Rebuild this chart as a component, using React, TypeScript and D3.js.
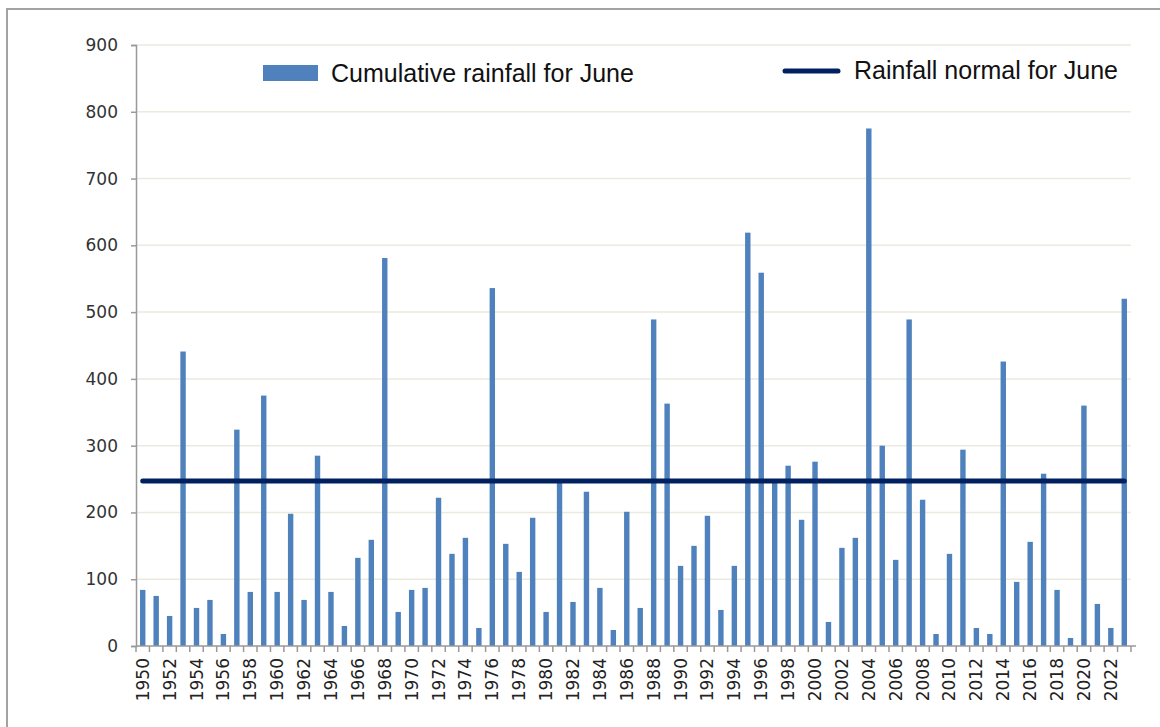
import { useEffect, useRef } from "react";
import * as d3 from "d3";

// June rainfall per year (mm)
const years = d3.range(1950, 2024).map(String);
const rainfall = [
  84, 75, 45, 441, 57, 69, 18, 324, 81, 375,
  81, 198, 69, 285, 81, 30, 132, 159, 581, 51,
  84, 87, 222, 138, 162, 27, 536, 153, 111, 192,
  51, 246, 66, 231, 87, 24, 201, 57, 489, 363,
  120, 150, 195, 54, 120, 619, 559, 246, 270, 189,
  276, 36, 147, 162, 775, 300, 129, 489, 219, 18,
  138, 294, 27, 18, 426, 96, 156, 258, 84, 12,
  360, 63, 27, 520,
];
const normalValue = 247;
const yTicks = [0, 100, 200, 300, 400, 500, 600, 700, 800, 900];
const seriesNames = ["Cumulative rainfall for June", "Rainfall normal for June"];

const width = 1160;
const height = 727;

export default function App() {
  const svgRef = useRef<SVGSVGElement>(null);

  useEffect(() => {
    if (!svgRef.current) return;
    const svg = d3.select(svgRef.current);
    svg.selectAll("*").remove();

    const left = 136, right = 1131, top = 45, bottom = 646;
    const font = "'DejaVu Sans', Verdana, sans-serif";

    // frame around the whole chart
    svg.append("rect")
      .attr("x", 7).attr("y", 9)
      .attr("width", 1170).attr("height", 740)
      .attr("fill", "#fff")
      .attr("stroke", "#a3a3a3")
      .attr("stroke-width", 2);

    const xb = d3.scaleBand().domain(years).range([left, right]);
    const y = d3.scaleLinear().domain([0, 900]).range([bottom, top]);

    // gridlines
    svg.append("g")
      .selectAll("line")
      .data(yTicks.filter((t) => t > 0))
      .join("line")
      .attr("x1", left).attr("x2", right)
      .attr("y1", (d) => y(d)).attr("y2", (d) => y(d))
      .attr("stroke", "#ece9dd")
      .attr("stroke-width", 1.5);

    // y axis
    const yAxis = svg.append("g")
      .attr("transform", `translate(${left},0)`)
      .call(d3.axisLeft(y).tickValues(yTicks).tickSize(5).tickPadding(13));
    yAxis.select(".domain").attr("stroke", "#999").attr("stroke-width", 1.5);
    yAxis.selectAll(".tick line").attr("stroke", "#999").attr("stroke-width", 1.5);
    yAxis.selectAll("text")
      .attr("font-family", font)
      .attr("font-size", 17)
      .attr("fill", "#333");

    // bars
    svg.append("g")
      .selectAll("rect")
      .data(rainfall)
      .join("rect")
      .attr("x", (_d, i) => (xb(years[i]) as number) + xb.bandwidth() / 2 - 2.7)
      .attr("width", 5.4)
      .attr("y", (d) => y(d))
      .attr("height", (d) => y(0) - y(d))
      .attr("fill", "#4f81bd");

    // x axis
    const xg = svg.append("g").attr("transform", `translate(0,${bottom})`);
    xg.append("line")
      .attr("x1", left).attr("x2", right + 5)
      .attr("stroke", "#999").attr("stroke-width", 1.5);
    xg.selectAll("line.tk")
      .data([...years, "end"])
      .join("line")
      .attr("class", "tk")
      .attr("x1", (_d, i) => left + i * xb.step())
      .attr("x2", (_d, i) => left + i * xb.step())
      .attr("y1", 0).attr("y2", 6)
      .attr("stroke", "#999").attr("stroke-width", 1.5);
    xg.selectAll("text")
      .data(years.filter((_d, i) => i % 2 === 0))
      .join("text")
      .attr("transform", (d) => `translate(${(xb(d) as number) + xb.bandwidth() / 2 + 6},12) rotate(-90)`)
      .attr("text-anchor", "end")
      .attr("font-family", font)
      .attr("font-size", 17)
      .attr("fill", "#222")
      .text((d) => d);

    // normal line
    svg.append("line")
      .attr("x1", (xb(years[0]) as number) + xb.bandwidth() / 2)
      .attr("x2", (xb(years[years.length - 1]) as number) + xb.bandwidth() / 2)
      .attr("y1", y(normalValue)).attr("y2", y(normalValue))
      .attr("stroke", "#002060")
      .attr("stroke-width", 5)
      .attr("stroke-linecap", "round");

    // legend
    const legendFont = "'Liberation Sans', Arial, sans-serif";
    svg.append("rect")
      .attr("x", 263).attr("y", 65).attr("width", 55).attr("height", 16)
      .attr("fill", "#4f81bd");
    svg.append("text")
      .attr("x", 331).attr("y", 82)
      .attr("font-family", legendFont).attr("font-size", 25)
      .attr("fill", "#111")
      .text(seriesNames[0]);
    svg.append("line")
      .attr("x1", 785).attr("x2", 838).attr("y1", 71).attr("y2", 71)
      .attr("stroke", "#002060").attr("stroke-width", 5).attr("stroke-linecap", "round");
    svg.append("text")
      .attr("x", 854).attr("y", 79)
      .attr("font-family", legendFont).attr("font-size", 25)
      .attr("fill", "#111")
      .text(seriesNames[1]);
  }, []);

  return (
    <svg
      ref={svgRef}
      width={width}
      height={height}
      style={{ position: "absolute", left: 0, top: 0, background: "#fff" }}
    />
  );
}
